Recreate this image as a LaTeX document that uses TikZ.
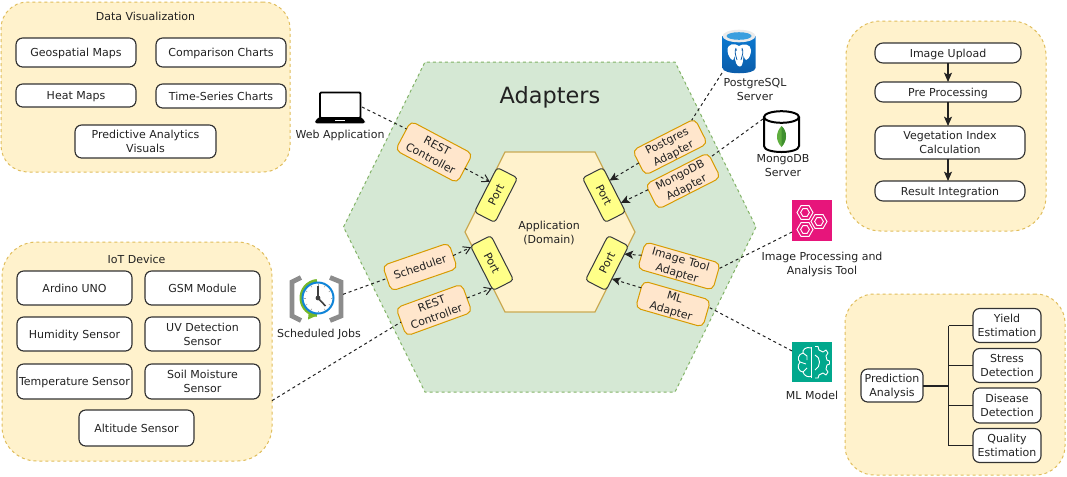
\documentclass[tikz,border=0pt]{standalone}
\usepackage{fontspec}
\setmainfont{DejaVu Sans}
\usetikzlibrary{arrows.meta}
\definecolor{txt}{HTML}{222222}
\definecolor{panelfill}{HTML}{FFF2CC}
\definecolor{panelline}{HTML}{E0BD5C}
\definecolor{hexfill}{HTML}{D5E8D4}
\definecolor{hexline}{HTML}{82B366}
\definecolor{adfill}{HTML}{FFE6CC}
\definecolor{adline}{HTML}{D79B00}
\definecolor{portfill}{HTML}{FFFF88}
\definecolor{portline}{HTML}{36393D}
\definecolor{pink}{HTML}{E7157B}
\definecolor{teal}{HTML}{01A88D}
\definecolor{clockgreen}{HTML}{76B82A}
\definecolor{clockblue}{HTML}{0F84D8}
\definecolor{pgtop}{HTML}{0A78D0}
\definecolor{pgbot}{HTML}{0B5BA8}
\definecolor{leaf}{HTML}{5FAE3E}
\definecolor{leafdark}{HTML}{3F8F2F}
\tikzset{
  every node/.style={font=\fontsize{8.25}{10.5}\selectfont,text=txt,align=center,inner sep=0pt,outer sep=0pt,text height=6pt,text depth=0pt},
  two/.style={text height=16.5pt,text depth=0pt},
  sz/.style n args={2}{minimum width=#1*0.75pt,minimum height=#2*0.75pt},
  panel/.style={draw=panelline,fill=panelfill,line width=.75pt,dash pattern=on 2.25pt off 2.25pt},
  card/.style={draw=black!80,fill=white,line width=.85pt,rounded corners=5pt},
  adapter/.style={draw=adline,fill=adfill,line width=.75pt,rounded corners=4pt},
  portbox/.style={draw=portline,fill=portfill,line width=.75pt,rounded corners=2.5pt,sz={50}{23}},
  link/.style={draw=txt,line width=.75pt,dash pattern=on 2.25pt off 2.25pt},
  openlink/.style={link,-{Straight Barb[length=5pt,width=6pt]}},
  filledlink/.style={link,-{Stealth[length=6.5pt,width=6pt,inset=1.5pt]}},
  flow/.style={draw=txt,line width=.8pt,-{Stealth[length=7pt,width=6pt,inset=1.5pt]}},
  branch/.style={draw=txt,line width=.85pt},
  iconbox/.style={inner sep=0pt},
}
\newcommand{\hexic}[3]{%
  \draw[white,line width=.7pt] (#1+#3,#2)--(#1+#3/2,#2+.866*#3)--(#1-#3/2,#2+.866*#3)--(#1-#3,#2)--(#1-#3/2,#2-.866*#3)--(#1+#3/2,#2-.866*#3)--cycle;
  \draw[white,line width=.7pt] (#1+#3*.55,#2)--(#1+#3*.27,#2+.48*#3)--(#1-#3*.27,#2+.48*#3)--(#1-#3*.55,#2)--(#1-#3*.27,#2-.48*#3)--(#1+#3*.27,#2-.48*#3)--cycle;}
\begin{document}
\begin{tikzpicture}[x=.75pt,y=-.75pt]
\useasboundingbox (0,0) rectangle (1067,476);
% panels
\node[panel,rounded corners=20pt,sz={289}{170}] (vizpanel) at (145.5,87) {};
\node[panel,rounded corners=26pt,sz={270}{219}] (iotpanel) at (137,351.5) {};
\node[panel,rounded corners=26pt,sz={200}{210}] (flowpanel) at (946,126) {};
\node[panel,rounded corners=22pt,sz={220}{181}] (predpanel) at (955,384.5) {};
% hexagons
\draw[fill=hexfill,draw=hexline,line width=.75pt,dash pattern=on 2.25pt off 2.25pt]
  (343.5,227)--(425,62)--(675,62)--(756,227)--(675,392)--(425,392)--cycle;
\draw[fill=panelfill,draw=panelline!90!black,line width=.9pt]
  (465,232)--(505,152)--(595,152)--(635,232)--(595,312)--(505,312)--cycle;
\node[font=\fontsize{16.8}{20}\selectfont,text height=12pt] (adtitle) at (550,95) {Adapters};
\node[two] (domain) at (549,232) {Application\\(Domain)};
\node (viztitle) at (145.5,16) {Data Visualization};
\node (iottitle) at (136.5,259) {IoT Device};
% visualization cards
\node[card,sz={120}{29}] (geo) at (76,52.5) {Geospatial Maps};
\node[card,sz={130}{29}] (cmp) at (221,52.5) {Comparison Charts};
\node[card,sz={120}{23}] (heat) at (76,95.5) {Heat Maps};
\node[card,sz={130}{24}] (ts) at (221,96) {Time-Series Charts};
\node[card,two,sz={141}{33}] (pav) at (145.5,141.5) {Predictive Analytics\\Visuals};
% IoT cards
\node[card,sz={115}{34}] (uno) at (74.5,288) {Ardino UNO};
\node[card,sz={115}{34}] (gsm) at (202.5,288) {GSM Module};
\node[card,sz={115}{34}] (hum) at (74.5,334) {Humidity Sensor};
\node[card,two,sz={115}{34}] (uv) at (202.5,334) {UV Detection\\Sensor};
\node[card,sz={115}{35}] (tmp) at (74.5,381.5) {Temperature Sensor};
\node[card,two,sz={115}{35}] (soil) at (202.5,381.5) {Soil Moisture\\Sensor};
\node[card,sz={115}{36}] (alt) at (136.5,428) {Altitude Sensor};
% flow
\node[card,rounded corners=6pt,sz={146}{20}] (upload) at (948,53) {Image Upload};
\node[card,rounded corners=6pt,sz={146}{20}] (pre) at (948,92) {Pre Processing};
\node[card,two,rounded corners=6pt,sz={150}{33}] (veg) at (950,142.5) {Vegetation Index\\Calculation};
\node[card,rounded corners=6pt,sz={150}{20}] (res) at (950,191) {Result Integration};
\draw[flow] (upload.south)--(pre.north);
\draw[flow] (pre.south)--(pre.south|-veg.north);
\draw[flow] (pre.south|-veg.south)--(pre.south|-res.north);
% prediction
\coordinate (trunk) at (948.5,385.5);
\draw[branch] (trunk|-0,325.5)--(trunk|-0,445.5);
\node[card,two,sz={62}{33}] (pred) at (892,385.5) {Prediction\\Analysis};
\node[card,two,sz={68}{34}] (yield) at (1007,325.5) {Yield\\Estimation};
\node[card,two,sz={68}{34}] (stress) at (1007,365.5) {Stress\\Detection};
\node[card,two,sz={68}{35}] (dis) at (1007,405.5) {Disease\\Detection};
\node[card,two,sz={68}{34}] (qual) at (1007,445.5) {Quality\\Estimation};
\draw[branch,line width=1.5pt] (pred.east)--(trunk);
\draw[branch] (trunk|-yield.west)--(yield.west);
\draw[branch] (trunk|-stress.west)--(stress.west);
\draw[branch] (trunk|-dis.west)--(dis.west);
\draw[branch] (trunk|-qual.west)--(qual.west);
% adapters and ports
\node[adapter,two,rotate=-28,sz={70}{33}] (rest1) at (434,152) {REST\\Controller};
\node[adapter,two,rotate=27,sz={70}{28}] (pgad) at (670,147) {Postgres\\Adapter};
\node[adapter,two,rotate=27,sz={70}{28}] (mgad) at (683,181) {MongoDB\\Adapter};
\node[adapter,rotate=19,sz={70}{27}] (sched) at (420,267) {Scheduler};
\node[adapter,two,rotate=20,sz={70}{30}] (rest2) at (434,310) {REST\\Controller};
\node[adapter,two,rotate=-16,sz={78}{28}] (imgad) at (679,266) {Image Tool\\Adapter};
\node[adapter,two,rotate=-16,sz={70}{28}] (mlad) at (673,304) {ML\\Adapter};
\node[portbox,rotate=63] (port1) at (496,195) {Port};
\node[portbox,rotate=-63] (port2) at (604,195) {Port};
\node[portbox,rotate=-63] (port3) at (492,263) {Port};
\node[portbox,rotate=63] (port4) at (607,263) {Port};
% laptop
\node[iconbox,sz={44}{32}] (web) at (340,107) {};
\draw[black,fill=white,line width=1.4pt,rounded corners=.8pt] (320,92.5) rectangle (360.5,118);
\fill[black,rounded corners=1.2pt] (319,117)--(361,117)--(365,121)--(365,123.3)--(315,123.3)--(315,121)--cycle;
\fill[white] (335,119.8) rectangle (345,121.4);
\node (weblbl) at (340,134) {Web Application};
% scheduled jobs
\node[iconbox,sz={53}{48}] (clock) at (316.5,299) {};
\draw[black!45,line width=3.6pt,line join=miter] (301,277.5)--(292,282)--(292,316)--(301,320.5);
\draw[black!45,line width=3.6pt,line join=miter] (330,277.5)--(341,282)--(341,316)--(330,320.5);
\draw[clockgreen,line width=3pt] (317,281) arc[start angle=95,end angle=265,x radius=17,y radius=-17];
\fill[clockgreen] (309,309.5)--(317,315.5)--(308,319.5)--cycle;
\draw[fill=white,draw=clockblue,line width=1.5pt] (318,298) circle (15.5);
\foreach \a in {0,30,...,330}{\draw[black!35,line width=.5pt] (318,298)++(\a:12.5)--++(\a:1.8);}
\draw[black!75,line width=1.2pt] (318,298)--(318,285.5);
\draw[black!75,line width=1.2pt] (318,298)--(325.5,306);
\fill[black!75] (318,298) circle (2.4);
\node (schedlbl) at (319,333) {Scheduled Jobs};
% postgres
\node[iconbox,sz={34}{43}] (pgicon) at (739,51.5) {};
\shade[top color=pgtop,bottom color=pgbot] (722.5,36)--(722.5,68) .. controls (722.5,75) and (755.5,75) .. (755.5,68)--(755.5,36)--cycle;
\fill[black!8] (739,36) ellipse (16.5 and 6.3);
\fill[cyan!75!blue!80] (739,36) ellipse (12.5 and 3.8);
\fill[white] (739,46) .. controls (735,43) and (727,43) .. (727.5,51) .. controls (728,56) and (731,60) .. (733,60) .. controls (734,60) and (734,56) .. (734.5,55) .. controls (735,62) and (737,67) .. (740,66.5) .. controls (743,66.5) and (743,60) .. (743.5,55) .. controls (744,57) and (745,60) .. (746,60) .. controls (749,59) and (751,55) .. (751,50) .. controls (751,44) and (743,43) .. (739,46)--cycle;
\draw[pgbot,line width=.6pt] (736,48) .. controls (734,52) and (736,56) .. (737,60);
\draw[pgbot,line width=.6pt] (742,48) .. controls (744,52) and (742,56) .. (741,60);
\fill[pgbot] (736.3,50) circle (.7);
\fill[pgbot] (742,50) circle (.7);
\node[two] (pglbl) at (755,89) {PostgreSQL\\Server};
% mongodb
\node[iconbox,sz={37}{42}] (mgicon) at (781.5,131) {};
\draw[black,fill=white,line width=1.5pt] (764,117)--(764,146) .. controls (764,154) and (799,154) .. (799,146)--(799,117);
\draw[black,fill=white,line width=1.5pt] (781.5,117) ellipse (17.5 and 5.8);
\fill[leaf] (781.5,126) .. controls (776,132) and (775,140) .. (781.5,147) .. controls (788,140) and (787,132) .. (781.5,126)--cycle;
\fill[leafdark] (781.5,126) .. controls (788,132) and (787,140) .. (781.5,147)--cycle;
\node[two] (mglbl) at (783,165) {MongoDB\\Server};
% image tool
\node[iconbox,fill=pink,sz={40}{41}] (imgicon) at (812,220.5) {};
\hexic{805}{212.5}{8}
\hexic{819}{221.5}{8}
\hexic{805}{229.5}{8}
\node[two] (imglbl) at (822,263) {Image Processing and\\Analysis Tool};
% ML model
\node[iconbox,fill=teal,sz={40}{40}] (mlicon) at (812,362) {};
\begin{scope}[white,line width=.7pt,line join=round]
\draw (811.5,347)--(811.5,377.5);
\draw (811.5,348) .. controls (806,346) and (802,350) .. (803,353) .. controls (798,354) and (797,360) .. (800,362) .. controls (796,366) and (799,372) .. (803,372) .. controls (804,376) and (809,378) .. (811.5,376);
\draw (803,353)--(807,356)--(807,360);
\draw (800,362)--(806,364);
\draw (803,372)--(807,368);
\draw (815,346.5)--(818,346.5)--(819,350)--(823,352)--(826,350)--(828,353)--(826,356)--(827,360)--(829.5,361)--(829.5,364)--(827,365)--(826,369)--(828,372)--(826,375)--(823,373)--(819,375)--(818,378)--(815,378);
\draw (815,355) .. controls (821,357) and (821,367) .. (815,370);
\end{scope}
\node (mllbl) at (812,395) {ML Model};
% connectors
\draw[link] (web.east)--(rest1.168);
\draw[openlink] (rest1.east)--(port1.52);
\draw[link] (clock.10)--(sched.west);
\draw[openlink] (sched.east)--(port3.206);
\draw[link] (iotpanel.340)--(rest2.west);
\draw[openlink] (rest2.east)--(port3.333);
\draw[link] (pgicon.south west)--(pgad.24);
\draw[filledlink] (pgad.west)--(port2.132);
\draw[link] (mgicon.147)--(mgad.14);
\draw[filledlink] (mgad.167)--(port2.38);
\draw[link] (imgicon.210)--(imgad.12);
\draw[filledlink] (imgad.west)--(port4.324);
\draw[link] (mlicon.151)--(mlad.11);
\draw[filledlink] (mlad.169)--(port4.224);
\end{tikzpicture}
\end{document}
